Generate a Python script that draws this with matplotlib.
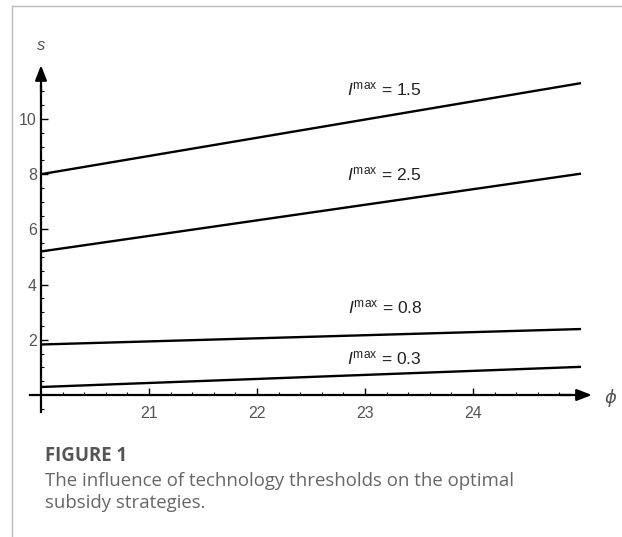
import numpy as np
import matplotlib
matplotlib.use("Agg")
import matplotlib.pyplot as plt
from matplotlib.lines import Line2D
from matplotlib.ticker import FixedLocator

plt.rcParams['font.family'] = ['Liberation Sans', 'DejaVu Sans']
plt.rcParams['mathtext.fontset'] = 'custom'
plt.rcParams['mathtext.rm'] = 'Liberation Sans'
plt.rcParams['mathtext.it'] = 'Liberation Sans:italic'

# data: s against phi for four technology thresholds
phi = [20, 25]
imax_labels = ['1.5', '2.5', '0.8', '0.3']
s_15 = [8.0, 11.3]
s_25 = [5.2, 8.02]
s_08 = [1.83, 2.39]
s_03 = [0.29, 1.02]
label_pos = [(22.83, 10.87), (22.83, 7.79), (22.84, 2.97), (22.83, 1.12)]

W, H = 622, 537
fig = plt.figure(figsize=(W / 100, H / 100), dpi=100)

# axes placed so that phi=20 sits at px 41, 1 unit = 108 px; s=0 at px 395, 1 unit = 27.6 px
xlo, xhi = 19.8, 25.3
ylo, yhi = -1.0, 12.5
px_x = lambda v: 41 + (v - 20) * 108
px_y = lambda v: 395 - v * 27.6
left = px_x(xlo) / W
right = px_x(xhi) / W
bottom = 1 - px_y(ylo) / H
top = 1 - px_y(yhi) / H
ax = fig.add_axes([left, bottom, right - left, top - bottom])
ax.set_xlim(xlo, xhi)
ax.set_ylim(ylo, yhi)
ax.patch.set_visible(False)

for s in [s_15, s_25, s_08, s_03]:
    ax.plot(phi, s, color='black', lw=1.7, solid_capstyle='butt')

for lab, (x, y) in zip(imax_labels, label_pos):
    ax.text(x, y, r'$\mathit{I}^{\mathrm{max}}$' + ' = ' + lab, fontsize=12.5,
            color='#222222', va='baseline', ha='left')

# Mathematica-style axes through (20, 0)
for side in ['top', 'right']:
    ax.spines[side].set_visible(False)
ax.spines['left'].set_position(('data', 20))
ax.spines['bottom'].set_position(('data', 0))
ax.spines['left'].set_bounds(-0.62, 11.2)
ax.spines['bottom'].set_bounds(19.9, 24.9)
for side in ['left', 'bottom']:
    ax.spines[side].set_linewidth(1.6)
ax.annotate('', xy=(25.1, 0), xytext=(24.8, 0),
            arrowprops=dict(arrowstyle='-|>,head_length=0.9,head_width=0.35',
                            color='black', lw=1.6, shrinkA=0, shrinkB=0))
ax.annotate('', xy=(20, 11.95), xytext=(20, 11.0),
            arrowprops=dict(arrowstyle='-|>,head_length=0.9,head_width=0.35',
                            color='black', lw=1.6, shrinkA=0, shrinkB=0))

ax.set_xticks([21, 22, 23, 24])
ax.set_yticks([2, 4, 6, 8, 10])
x_minor = [v for v in np.round(np.arange(20.2, 24.95, 0.2), 2) if v % 1 != 0]
y_minor = [v for v in np.arange(-0.5, 11.01, 0.5) if v % 2 != 0]
ax.xaxis.set_minor_locator(FixedLocator(x_minor))
ax.yaxis.set_minor_locator(FixedLocator(y_minor))
ax.tick_params(which='major', direction='in', length=5, width=1.0,
               labelsize=11.5, labelcolor='#555555', pad=3)
ax.tick_params(axis='x', which='major', pad=8)
ax.tick_params(which='minor', direction='in', length=2.5, width=0.8)

ax.text(20, 12.68, 's', fontsize=12, style='italic', color='#555555',
        ha='center', va='center')
ax.text(25.27, -0.1, 'ϕ', fontsize=13, color='#555555', family='DejaVu Sans',
        style='italic', ha='center', va='center', clip_on=False)

# card border
fig.add_artist(Line2D([12 / W, 1], [1 - 6 / H, 1 - 6 / H], color='#bbbbbb', lw=1.0))
fig.add_artist(Line2D([12 / W, 12 / W], [0, 1 - 6 / H], color='#bbbbbb', lw=1.0))

# caption
fig.text(45 / W, 1 - 461 / H, 'FIGURE 1', fontsize=13.4, fontweight='bold',
         color='#555555', family='Open Sans', va='baseline')
fig.text(45 / W, 1 - 486 / H, 'The influence of technology thresholds on the optimal',
         fontsize=13.4, color='#666666', family='Open Sans', va='baseline')
fig.text(45 / W, 1 - 508 / H, 'subsidy strategies.',
         fontsize=13.4, color='#666666', family='Open Sans', va='baseline')

fig.savefig('out.png', dpi=100)
